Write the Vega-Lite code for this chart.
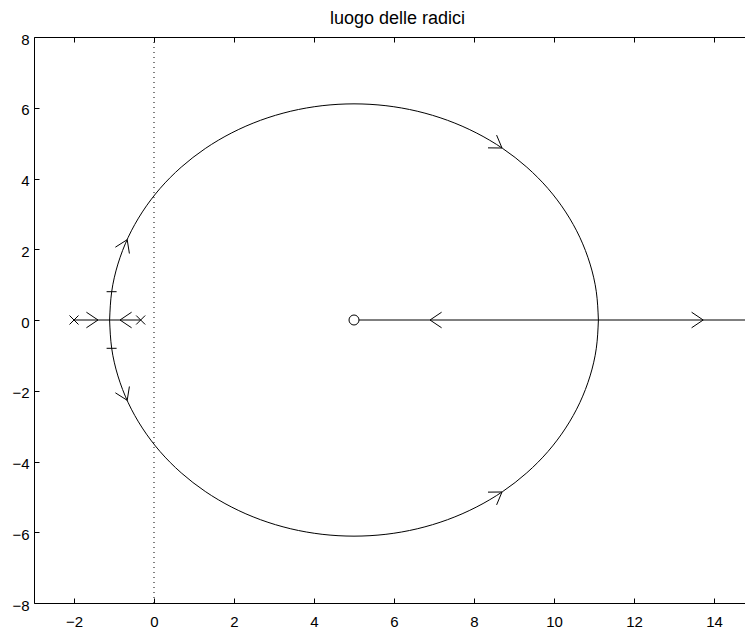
{
  "$schema": "https://vega.github.io/schema/vega-lite/v6.json",
  "width": 711,
  "height": 566,
  "autosize": "none",
  "padding": {"left": 34, "top": 37, "right": 0, "bottom": 30},
  "title": {
    "text": "luogo delle radici",
    "font": "Liberation Sans",
    "fontSize": 18,
    "fontWeight": "normal",
    "color": "#000",
    "baseline": "alphabetic",
    "offset": -10,
    "dx": 8
  },
  "config": {
    "view": {"stroke": null},
    "font": "Liberation Sans",
    "axis": {
      "grid": false,
      "title": null,
      "domainColor": "#000",
      "domainWidth": 1,
      "tickColor": "#000",
      "tickWidth": 1,
      "tickSize": -5,
      "labelColor": "#000",
      "labelFont": "Liberation Sans",
      "labelFontSize": 15,
      "labelPadding": 16,
      "labelFlush": false,
      "labelOverlap": false
    }
  },
  "resolve": {"axis": {"x": "independent", "y": "independent"}},
  "layer": [
    {
      "data": {
        "values": [
          {"branch": "sopra", "ord": 0, "re": -1.11, "im": 0},
          {"branch": "sopra", "ord": 1, "re": -1.058, "im": 0.798},
          {"branch": "sopra", "ord": 2, "re": -0.902, "im": 1.581},
          {"branch": "sopra", "ord": 3, "re": -0.645, "im": 2.338},
          {"branch": "sopra", "ord": 4, "re": -0.291, "im": 3.055},
          {"branch": "sopra", "ord": 5, "re": 0.153, "im": 3.72},
          {"branch": "sopra", "ord": 6, "re": 0.68, "im": 4.32},
          {"branch": "sopra", "ord": 7, "re": 1.281, "im": 4.847},
          {"branch": "sopra", "ord": 8, "re": 1.945, "im": 5.291},
          {"branch": "sopra", "ord": 9, "re": 2.662, "im": 5.645},
          {"branch": "sopra", "ord": 10, "re": 3.419, "im": 5.902},
          {"branch": "sopra", "ord": 11, "re": 4.203, "im": 6.058},
          {"branch": "sopra", "ord": 12, "re": 5.0, "im": 6.11},
          {"branch": "sopra", "ord": 13, "re": 5.798, "im": 6.058},
          {"branch": "sopra", "ord": 14, "re": 6.581, "im": 5.902},
          {"branch": "sopra", "ord": 15, "re": 7.338, "im": 5.645},
          {"branch": "sopra", "ord": 16, "re": 8.055, "im": 5.291},
          {"branch": "sopra", "ord": 17, "re": 8.72, "im": 4.847},
          {"branch": "sopra", "ord": 18, "re": 9.32, "im": 4.32},
          {"branch": "sopra", "ord": 19, "re": 9.847, "im": 3.72},
          {"branch": "sopra", "ord": 20, "re": 10.291, "im": 3.055},
          {"branch": "sopra", "ord": 21, "re": 10.645, "im": 2.338},
          {"branch": "sopra", "ord": 22, "re": 10.902, "im": 1.581},
          {"branch": "sopra", "ord": 23, "re": 11.058, "im": 0.798},
          {"branch": "sopra", "ord": 24, "re": 11.11, "im": 0},
          {"branch": "sotto", "ord": 0, "re": -1.11, "im": 0},
          {"branch": "sotto", "ord": 1, "re": -1.058, "im": -0.798},
          {"branch": "sotto", "ord": 2, "re": -0.902, "im": -1.581},
          {"branch": "sotto", "ord": 3, "re": -0.645, "im": -2.338},
          {"branch": "sotto", "ord": 4, "re": -0.291, "im": -3.055},
          {"branch": "sotto", "ord": 5, "re": 0.153, "im": -3.72},
          {"branch": "sotto", "ord": 6, "re": 0.68, "im": -4.32},
          {"branch": "sotto", "ord": 7, "re": 1.281, "im": -4.847},
          {"branch": "sotto", "ord": 8, "re": 1.945, "im": -5.291},
          {"branch": "sotto", "ord": 9, "re": 2.662, "im": -5.645},
          {"branch": "sotto", "ord": 10, "re": 3.419, "im": -5.902},
          {"branch": "sotto", "ord": 11, "re": 4.203, "im": -6.058},
          {"branch": "sotto", "ord": 12, "re": 5.0, "im": -6.11},
          {"branch": "sotto", "ord": 13, "re": 5.798, "im": -6.058},
          {"branch": "sotto", "ord": 14, "re": 6.581, "im": -5.902},
          {"branch": "sotto", "ord": 15, "re": 7.338, "im": -5.645},
          {"branch": "sotto", "ord": 16, "re": 8.055, "im": -5.291},
          {"branch": "sotto", "ord": 17, "re": 8.72, "im": -4.847},
          {"branch": "sotto", "ord": 18, "re": 9.32, "im": -4.32},
          {"branch": "sotto", "ord": 19, "re": 9.847, "im": -3.72},
          {"branch": "sotto", "ord": 20, "re": 10.291, "im": -3.055},
          {"branch": "sotto", "ord": 21, "re": 10.645, "im": -2.338},
          {"branch": "sotto", "ord": 22, "re": 10.902, "im": -1.581},
          {"branch": "sotto", "ord": 23, "re": 11.058, "im": -0.798},
          {"branch": "sotto", "ord": 24, "re": 11.11, "im": 0},
          {"branch": "reale-sx", "ord": 0, "re": -2.0, "im": 0},
          {"branch": "reale-sx", "ord": 1, "re": -0.333, "im": 0},
          {"branch": "reale-dx", "ord": 0, "re": 5.0, "im": 0},
          {"branch": "reale-dx", "ord": 1, "re": 15.0, "im": 0}
        ]
      },
      "mark": {"type": "line", "color": "#000", "strokeWidth": 1, "clip": true, "interpolate": "natural"},
      "encoding": {
        "x": {
          "field": "re", "type": "quantitative",
          "scale": {"domain": [-3, 14.775], "nice": false, "zero": false},
          "axis": {"orient": "bottom", "values": [-2, 0, 2, 4, 6, 8, 10, 12, 14]}
        },
        "y": {
          "field": "im", "type": "quantitative",
          "scale": {"domain": [-8, 8], "nice": false, "zero": false},
          "axis": {"orient": "left", "values": [-8, -6, -4, -2, 0, 2, 4, 6, 8], "labelPadding": 10, "labelOffset": 2}
        },
        "detail": {"field": "branch"},
        "order": {"field": "ord"}
      }
    },
    {
      "data": {
        "values": [
          {"arrow": "a1", "ord": 0, "re": -1.69, "im": 0.22},
          {"arrow": "a1", "ord": 1, "re": -1.4, "im": 0},
          {"arrow": "a1", "ord": 2, "re": -1.69, "im": -0.22},
          {"arrow": "a2", "ord": 0, "re": -0.56, "im": 0.22},
          {"arrow": "a2", "ord": 1, "re": -0.85, "im": 0},
          {"arrow": "a2", "ord": 2, "re": -0.56, "im": -0.22},
          {"arrow": "a3", "ord": 0, "re": 7.19, "im": 0.22},
          {"arrow": "a3", "ord": 1, "re": 6.9, "im": 0},
          {"arrow": "a3", "ord": 2, "re": 7.19, "im": -0.22},
          {"arrow": "a4", "ord": 0, "re": 13.44, "im": 0.22},
          {"arrow": "a4", "ord": 1, "re": 13.73, "im": 0},
          {"arrow": "a4", "ord": 2, "re": 13.44, "im": -0.22},
          {"arrow": "a5", "ord": 0, "re": -0.615, "im": 1.879},
          {"arrow": "a5", "ord": 1, "re": -0.67, "im": 2.27},
          {"arrow": "a5", "ord": 2, "re": -0.966, "im": 2.058},
          {"arrow": "a6", "ord": 0, "re": -0.615, "im": -1.879},
          {"arrow": "a6", "ord": 1, "re": -0.67, "im": -2.27},
          {"arrow": "a6", "ord": 2, "re": -0.966, "im": -2.058},
          {"arrow": "a7", "ord": 0, "re": 8.35, "im": 4.866},
          {"arrow": "a7", "ord": 1, "re": 8.7, "im": 4.862},
          {"arrow": "a7", "ord": 2, "re": 8.565, "im": 5.227},
          {"arrow": "a8", "ord": 0, "re": 8.35, "im": -4.866},
          {"arrow": "a8", "ord": 1, "re": 8.7, "im": -4.862},
          {"arrow": "a8", "ord": 2, "re": 8.565, "im": -5.227}
        ]
      },
      "mark": {"type": "line", "color": "#000", "strokeWidth": 1},
      "encoding": {
        "x": {"field": "re", "type": "quantitative", "scale": {"domain": [-3, 14.775], "nice": false, "zero": false}, "axis": null},
        "y": {"field": "im", "type": "quantitative", "scale": {"domain": [-8, 8], "nice": false, "zero": false}, "axis": null},
        "detail": {"field": "arrow"},
        "order": {"field": "ord"}
      }
    },
    {
      "data": {"values": [{"re": 0}]},
      "mark": {"type": "rule", "color": "#000", "strokeWidth": 1, "strokeDash": [1, 4]},
      "encoding": {
        "x": {
          "field": "re", "type": "quantitative",
          "scale": {"domain": [-3, 14.775], "nice": false, "zero": false},
          "axis": {"orient": "top", "labels": false, "values": [-2, 0, 2, 4, 6, 8, 10, 12, 14]}
        }
      }
    },
    {
      "data": {"values": [{"re": -2.0, "im": 0}, {"re": -0.333, "im": 0}]},
      "mark": {"type": "point", "shape": "M-1,-1L1,1M-1,1L1,-1", "size": 81, "filled": false, "color": "#000", "strokeWidth": 1, "opacity": 1},
      "encoding": {
        "x": {"field": "re", "type": "quantitative", "scale": {"domain": [-3, 14.775], "nice": false, "zero": false}, "axis": null},
        "y": {"field": "im", "type": "quantitative", "scale": {"domain": [-8, 8], "nice": false, "zero": false}, "axis": null}
      }
    },
    {
      "data": {"values": [{"re": 5.0, "im": 0}]},
      "mark": {"type": "point", "shape": "circle", "size": 100, "filled": false, "fill": "#fff", "fillOpacity": 1, "stroke": "#000", "strokeWidth": 1, "opacity": 1},
      "encoding": {
        "x": {"field": "re", "type": "quantitative", "scale": {"domain": [-3, 14.775], "nice": false, "zero": false}, "axis": null},
        "y": {"field": "im", "type": "quantitative", "scale": {"domain": [-8, 8], "nice": false, "zero": false}, "axis": null}
      }
    },
    {
      "data": {"values": [{"re": -1.06, "im": 0.8}, {"re": -1.06, "im": -0.8}]},
      "mark": {"type": "point", "shape": "stroke", "size": 100, "filled": false, "color": "#000", "strokeWidth": 1, "opacity": 1},
      "encoding": {
        "x": {"field": "re", "type": "quantitative", "scale": {"domain": [-3, 14.775], "nice": false, "zero": false}, "axis": null},
        "y": {"field": "im", "type": "quantitative", "scale": {"domain": [-8, 8], "nice": false, "zero": false}, "axis": null}
      }
    }
  ]
}
